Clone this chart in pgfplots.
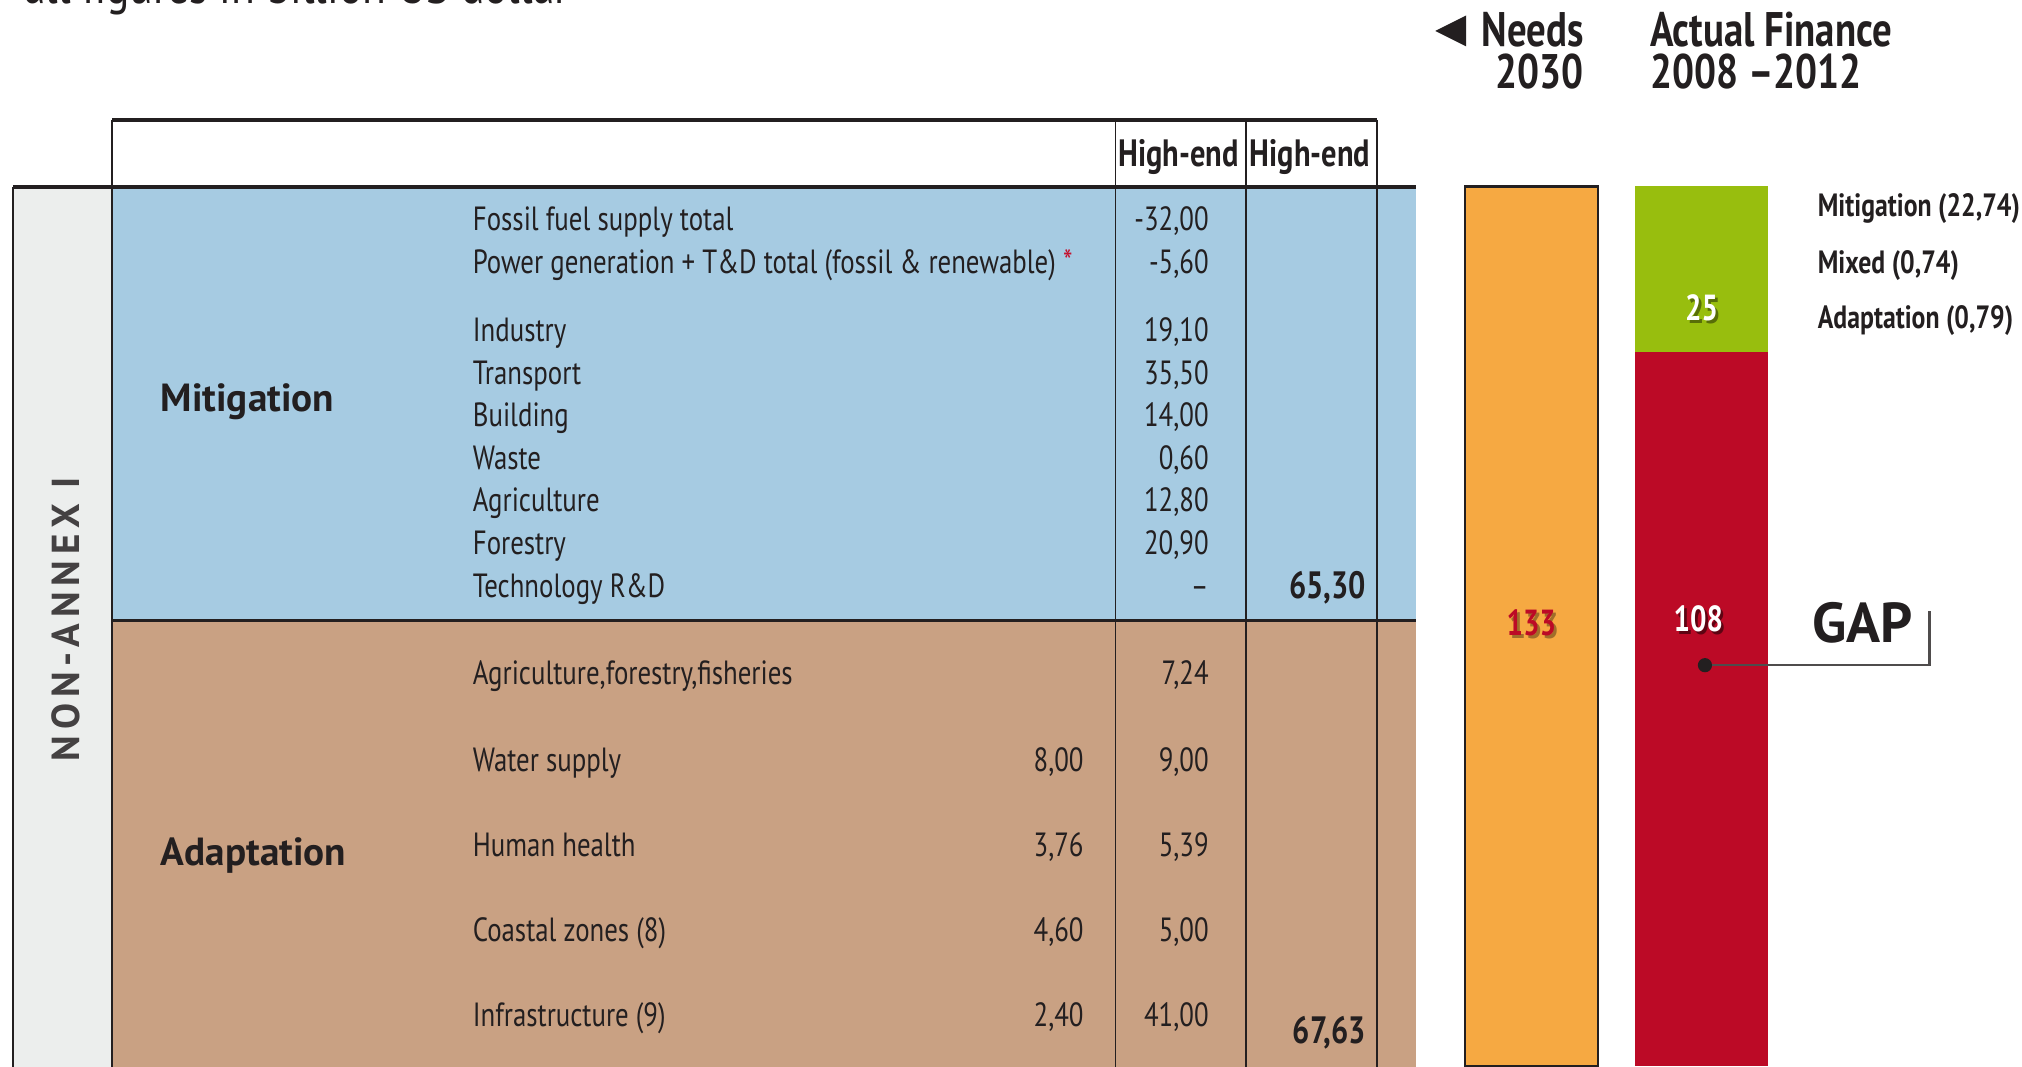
\documentclass[border=0pt]{standalone}
\usepackage{fontspec}
\usepackage{pgfplots}
\pgfplotsset{compat=1.18}
\setmainfont{PT Sans}
\newfontfamily\cond[FakeStretch=0.80]{PT Sans}
\newfontfamily\spaced[LetterSpace=15]{PT Sans}
\definecolor{blu}{HTML}{A6CBE2}
\definecolor{tanc}{HTML}{C9A183}
\definecolor{gcol}{HTML}{ECEEED}
\definecolor{orng}{HTML}{F6A942}
\definecolor{grn}{HTML}{98BE0E}
\definecolor{redd}{HTML}{BC0A26}
\definecolor{ast}{HTML}{C4122F}
\definecolor{ink}{HTML}{231F20}
\tikzset{nl/.style={anchor=base,inner sep=0,font=\cond\bfseries\fontsize{8}{9}\selectfont}}
\begin{document}
\begin{tikzpicture}[x=0.01cm,y=-0.01cm,
  lbl/.style={anchor=base west,inner sep=0,text=ink,font=\cond\fontsize{7.4}{8}\selectfont},
  val/.style={anchor=base east,inner sep=0,text=ink,font=\cond\fontsize{7.4}{8}\selectfont},
  bval/.style={anchor=base east,inner sep=0,text=ink,font=\cond\bfseries\fontsize{8.4}{9}\selectfont},
  hd/.style={inner sep=0,text=ink,font=\cond\bfseries\fontsize{10.7}{12}\selectfont},
  rl/.style={anchor=base west,inner sep=0,text=ink,font=\cond\bfseries\fontsize{7.1}{8}\selectfont},
  he/.style={anchor=base,inner sep=0,text=ink,font=\cond\bfseries\fontsize{8.4}{9}\selectfont},
  grp/.style={anchor=base west,inner sep=0,text=ink,font=\bfseries\fontsize{8.65}{10}\selectfont}]
\path[use as bounding box] (0,0) rectangle (1568,827);
\coordinate (B) at (1136,827);
\begin{scope}
\clip (0,0) rectangle (1568,827);
\node[anchor=base west,inner sep=0,text=ink,font=\cond\fontsize{12}{13}\selectfont] at (18,3) {all figures in billion US dollar};
% backgrounds
\fill[gcol] (10,145) rectangle (87,830);
\fill[blu] (87,145) rectangle (1098,481);
\fill[tanc] (87,481) rectangle (1098,830);
% lines
\draw[ink,line width=0.4pt] (10,145) -- (10,830);
\draw[ink,line width=0.4pt] (87,93) -- (87,830);
\draw[ink,line width=0.4pt] (865,93) -- (865,830);
\draw[ink,line width=0.4pt] (966,93) -- (966,830);
\draw[ink,line width=0.4pt] (1068,93) -- (1068,830);
\draw[ink,line width=0.7pt] (87,93) -- (1068,93);
\draw[ink,line width=0.9pt] (10,145) -- (1098,145);
\draw[ink,line width=0.7pt] (87,481) -- (1098,481);
% header
\node[he] at (914,129) {High-end};
\node[he] at (1016,129) {High-end};
% side label
\node[rotate=90,inner sep=0,text=ink!85,font=\spaced\bfseries\fontsize{8.6}{9}\selectfont] at (51,480) {NON-ANNEX I};
% groups
\node[grp] at (124,319) {Mitigation};
\node[grp] at (124,671) {Adaptation};
% mitigation items
\node[lbl] at (366,179) {Fossil fuel supply total};
\node[lbl] at (366,212) {Power generation + T\&D total (fossil \& renewable)~\textcolor{ast}{*}};
\node[lbl] at (366,265) {Industry};
\node[lbl] at (366,298) {Transport};
\node[lbl] at (366,331) {Building};
\node[lbl] at (366,364) {Waste};
\node[lbl] at (366,397) {Agriculture};
\node[lbl] at (366,430) {Forestry};
\node[lbl] at (366,463) {Technology R\&D};
\node[val] at (938,179) {-32,00};
\node[val] at (938,212) {-5,60};
\node[val] at (938,265) {19,10};
\node[val] at (938,298) {35,50};
\node[val] at (938,331) {14,00};
\node[val] at (938,364) {0,60};
\node[val] at (938,397) {12,80};
\node[val] at (938,430) {20,90};
\node[val] at (938,463) {–};
\node[bval] at (1060,464) {65,30};
% adaptation items
\node[lbl] at (366,531) {Agriculture,forestry,fisheries};
\node[lbl] at (366,598) {Water supply};
\node[lbl] at (366,664) {Human health};
\node[lbl] at (366,730) {Coastal zones (8)};
\node[lbl] at (366,796) {Infrastructure (9)};
\node[val] at (841,598) {8,00};
\node[val] at (841,664) {3,76};
\node[val] at (841,730) {4,60};
\node[val] at (841,796) {2,40};
\node[val] at (938,531) {7,24};
\node[val] at (938,598) {9,00};
\node[val] at (938,664) {5,39};
\node[val] at (938,730) {5,00};
\node[val] at (938,796) {41,00};
\node[bval] at (1060,809) {67,63};
% top-right header
\fill[ink] (1137,12) -- (1137,36) -- (1113,24) -- cycle;
\node[hd,anchor=base east] at (1229,36) {Needs};
\node[hd,anchor=base east] at (1229,69) {2030};
\node[hd,anchor=base west] at (1279,36) {Actual Finance};
\node[hd,anchor=base west] at (1279,69) {2008 –2012};
% right labels
\node[rl] at (1409,168) {Mitigation (22,74)};
\node[rl] at (1409,212) {Mixed (0,74)};
\node[rl] at (1409,255) {Adaptation (0,79)};
\node[anchor=base west,inner sep=0,text=ink,font=\bfseries\fontsize{12.4}{13}\selectfont] at (1405,498) {GAP};
% bars
\begin{axis}[at={(B)}, anchor=south west, scale only axis,
  width=2.35cm, height=6.82cm, xmin=-0.39, xmax=1.39, ymin=0, ymax=133,
  hide axis, ybar stacked, bar width=0.78, clip=false]
\addplot[fill=orng, draw=ink, line width=0.5pt] coordinates {(0,133) (1,0)};
\addplot[fill=redd, draw=none] coordinates {(0,0) (1,108)};
\addplot[fill=grn, draw=none] coordinates {(0,0) (1,25)};
\coordinate (L133) at (axis cs:0,65.2);
\coordinate (L108) at (axis cs:0.98,65.8);
\coordinate (L25) at (axis cs:1,112.8);
\coordinate (G1) at (axis cs:1.019,60.65);
\coordinate (G2) at (axis cs:2.337,60.65);
\coordinate (G3) at (axis cs:2.337,68.84);
\end{axis}
\node[nl,text=black,opacity=0.35,xshift=0.6pt,yshift=-0.8pt] at (L133) {133};
\node[nl,text=redd] at (L133) {133};
\node[nl,text=black,opacity=0.5,xshift=0.6pt,yshift=-0.8pt] at (L108) {108};
\node[nl,text=white] at (L108) {108};
\node[nl,text=black!70!grn,opacity=0.6,xshift=0.6pt,yshift=-0.8pt] at (L25) {25};
\node[nl,text=white] at (L25) {25};
\draw[ink!80,line width=0.5pt] (G1) -- (G2) -- (G3);
\fill[ink] (G1) circle[radius=0.055cm];
\end{scope}
\end{tikzpicture}
\end{document}
